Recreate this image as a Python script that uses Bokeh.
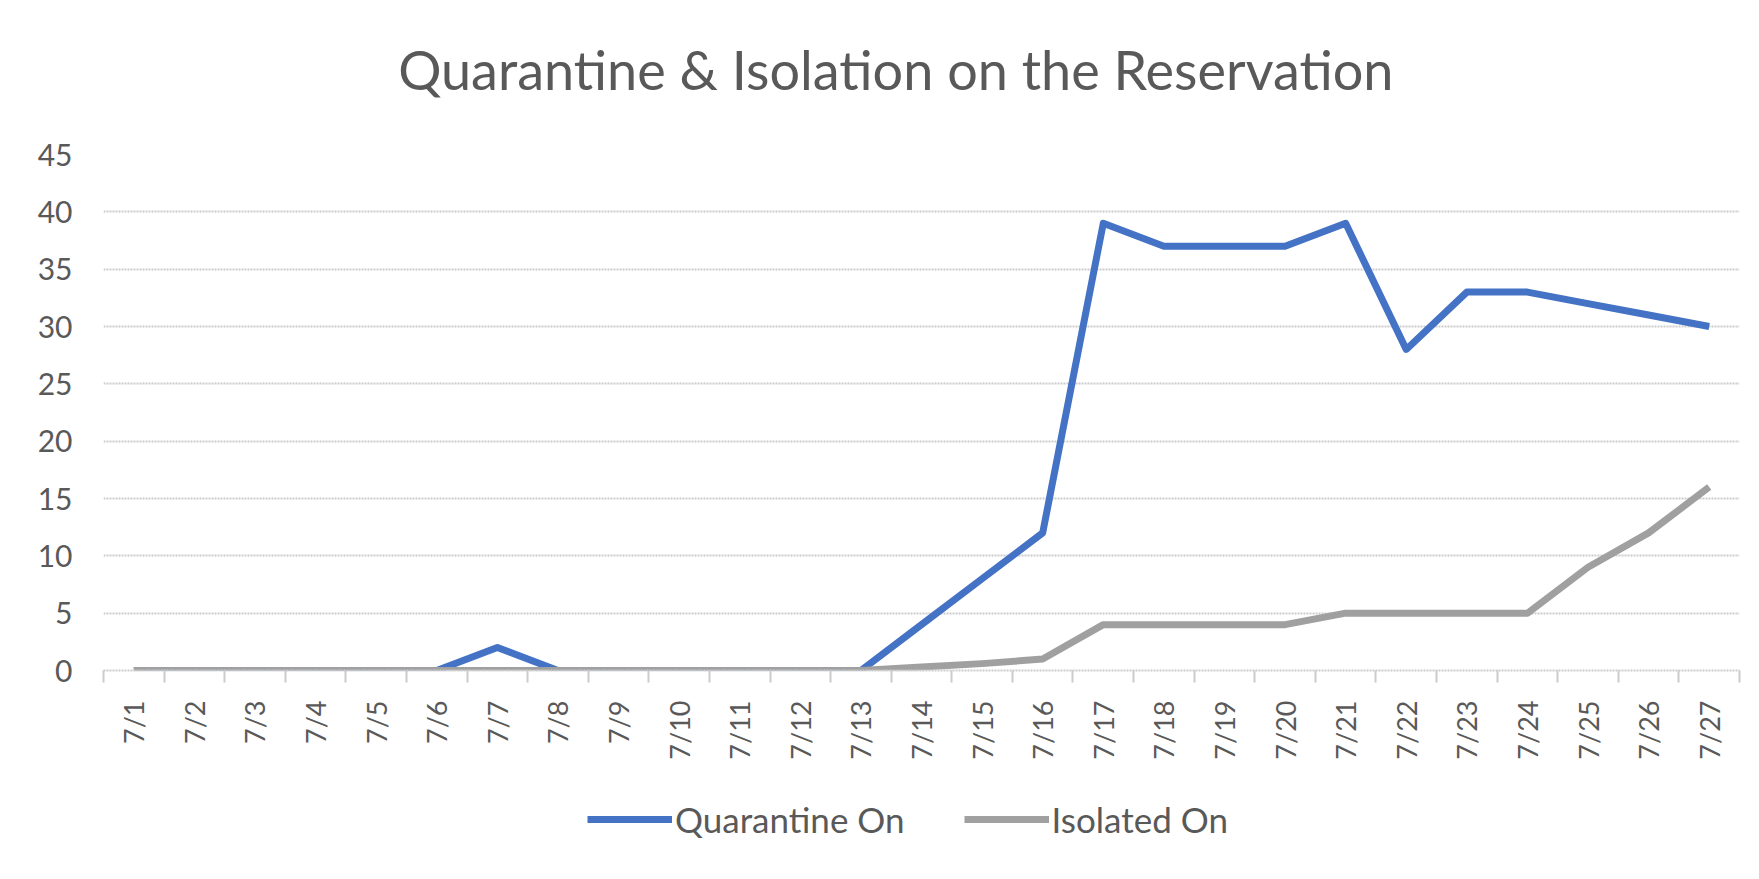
import math
from bokeh.plotting import figure
from bokeh.layouts import column
from bokeh.models import FixedTicker, Legend, LegendItem, Range1d, Label
from bokeh.embed import file_html
from bokeh.resources import INLINE

dates = ["7/1", "7/2", "7/3", "7/4", "7/5", "7/6", "7/7", "7/8", "7/9", "7/10",
         "7/11", "7/12", "7/13", "7/14", "7/15", "7/16", "7/17", "7/18", "7/19",
         "7/20", "7/21", "7/22", "7/23", "7/24", "7/25", "7/26", "7/27"]
quarantine_on = [0, 0, 0, 0, 0, 0, 2, 0, 0, 0, 0, 0, 0, 4, 8, 12, 39, 37, 37,
                 37, 39, 28, 33, 33, 32, 31, 30]
isolated_on = [0, 0, 0, 0, 0, 0, 0, 0, 0, 0, 0, 0, 0, 0.3, 0.6, 1, 4, 4, 4,
               4, 5, 5, 5, 5, 9, 12, 16]
y_ticks = [0, 5, 10, 15, 20, 25, 30, 35, 40, 45]
series_names = ["Quarantine On", "Isolated On"]

title_text = "Quarantine & Isolation on the Reservation"
FONT = "Lato"
TXT = "#595959"
GRID = "#cccccc"
BLUE = "#4472C4"
GREY = "#A0A0A0"
W = 1751

xs = list(range(len(dates)))

# title strip
tf = figure(width=W, height=110, output_backend="svg", toolbar_location=None,
            x_axis_type=None, y_axis_type=None,
            x_range=Range1d(0, W), y_range=Range1d(0, 110),
            min_border_left=0, min_border_right=0, min_border_top=0,
            min_border_bottom=0)
tf.outline_line_color = None
tf.xgrid.grid_line_color = None
tf.ygrid.grid_line_color = None
tf.add_layout(Label(x=848, y=41, text=title_text, text_align="center",
                    text_baseline="middle", text_font=FONT,
                    text_font_size="54px", text_color=TXT))

# main chart
p = figure(width=W, height=652, output_backend="svg", toolbar_location=None,
           x_range=Range1d(-0.5, len(dates) - 0.5), y_range=Range1d(0, 45),
           min_border_left=103, min_border_right=12, min_border_top=44,
           min_border_bottom=92)
p.outline_line_color = None
p.background_fill_color = "white"
p.border_fill_color = "white"

# y axis
p.yaxis.ticker = FixedTicker(ticks=y_ticks)
p.yaxis.axis_line_color = None
p.yaxis.major_tick_line_color = None
p.yaxis.minor_tick_line_color = None
p.yaxis.major_tick_out = 0
p.yaxis.major_label_standoff = 31
p.yaxis.major_label_text_font = FONT
p.yaxis.major_label_text_font_size = "30px"
p.yaxis.major_label_text_color = TXT

# x axis: labels at centers, ticks at boundaries
bounds = [i - 0.5 for i in range(len(dates) + 1)]
p.xaxis.ticker = FixedTicker(ticks=xs, minor_ticks=bounds)
p.xaxis.major_label_overrides = {i: d for i, d in enumerate(dates)}
p.xaxis.major_label_orientation = math.pi / 2
p.xaxis.major_tick_line_color = None
p.xaxis.major_tick_out = 0
p.xaxis.major_tick_in = 0
p.xaxis.minor_tick_out = 12
p.xaxis.minor_tick_in = 0
p.xaxis.minor_tick_line_color = GRID
p.xaxis.minor_tick_line_width = 2
p.xaxis.axis_line_color = GRID
p.xaxis.axis_line_width = 2
p.xaxis.axis_line_dash = "2 1"
p.xaxis.major_label_standoff = 18
p.xaxis.major_label_text_font = FONT
p.xaxis.major_label_text_font_size = "27px"
p.xaxis.major_label_text_color = TXT

# grids
p.xgrid.grid_line_color = None
p.ygrid.ticker = FixedTicker(ticks=y_ticks)
p.ygrid.grid_line_color = GRID
p.ygrid.grid_line_width = 2
p.ygrid.grid_line_dash = "2 1"

p.line(xs, quarantine_on, line_color=BLUE, line_width=7, line_join="round")
p.line(xs, isolated_on, line_color=GREY, line_width=7, line_join="round")

# legend strip below the chart (its lines lie outside the visible range)
lg = figure(width=W, height=100, output_backend="svg", toolbar_location=None,
            x_axis_type=None, y_axis_type=None,
            x_range=Range1d(-200, -199), y_range=Range1d(-200, -199),
            min_border_left=0, min_border_right=0, min_border_top=0,
            min_border_bottom=0)
lg.outline_line_color = None
lg.xgrid.grid_line_color = None
lg.ygrid.grid_line_color = None
l_q = lg.line(xs, quarantine_on, line_color=BLUE, line_width=7)
l_i = lg.line(xs, isolated_on, line_color=GREY, line_width=7)

legend = Legend(items=[LegendItem(label=series_names[0], renderers=[l_q]),
                       LegendItem(label=series_names[1], renderers=[l_i])],
                orientation="horizontal", location=(484, 22))
legend.label_text_font = FONT
legend.label_text_font_size = "35px"
legend.label_text_color = TXT
legend.glyph_width = 85
legend.glyph_height = 20
legend.label_standoff = 3
legend.spacing = 59
legend.padding = 0
legend.margin = 0
legend.border_line_color = None
legend.background_fill_alpha = 0
lg.add_layout(legend, "center")

open("out.html", "w").write(file_html(column(tf, p, lg, spacing=0), INLINE))
